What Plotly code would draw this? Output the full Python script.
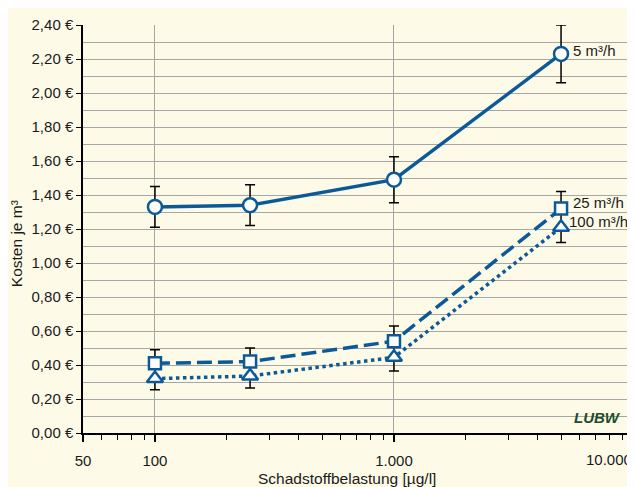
import plotly.graph_objects as go

# ---- data ----
x_vals = [100, 250, 1000, 5000]
y_5 = [1.33, 1.34, 1.49, 2.23]
err_5 = [0.12, 0.12, 0.135, 0.17]
y_25 = [0.41, 0.42, 0.54, 1.32]
err_25_plus = [0.08, 0.08, 0.09, 0.10]
y_100 = [0.32, 0.335, 0.445, 1.21]
err_100_minus = [0.065, 0.07, 0.08, 0.09]

y_ticks = [0, 0.2, 0.4, 0.6, 0.8, 1.0, 1.2, 1.4, 1.6, 1.8, 2.0, 2.2, 2.4]
y_ticktext = [f"{v:.2f}".replace(".", ",") + " €" for v in y_ticks]
x_ticks = [50, 100, 1000, 10000]
x_ticktext = ["50", "100", "1.000", "10.000"]
x_minor = [60, 70, 80, 90, 200, 300, 400, 500, 600, 700, 800, 900,
           2000, 3000, 4000, 5000, 6000, 7000, 8000, 9000]

series_labels = ["5 m³/h", "25 m³/h", "100 m³/h"]

BLUE = "#0b5a97"
BG = "#fdfae8"
FONT = "Liberation Sans, Arial, sans-serif"
TXT = "#1a1a1a"

fig = go.Figure()

# 25 m3/h (square, dashed) - error bar spans down to the triangle
err_25_minus = [a - b for a, b in zip(y_25, y_100)]
fig.add_trace(go.Scatter(
    x=x_vals, y=y_25, mode="lines+markers",
    line=dict(color=BLUE, width=3.5, dash="15px,6px"),
    marker=dict(symbol="square", size=12, color="white",
                line=dict(color=BLUE, width=2.5)),
    error_y=dict(type="data", symmetric=False, array=err_25_plus,
                 arrayminus=err_25_minus, color="black", thickness=1.5, width=5),
    showlegend=False))

# 100 m3/h (triangle, dotted)
fig.add_trace(go.Scatter(
    x=x_vals, y=y_100, mode="lines+markers",
    line=dict(color=BLUE, width=3.5, dash="3.5px,3.5px"),
    marker=dict(symbol="triangle-up", size=14, color="white",
                line=dict(color=BLUE, width=2.5)),
    error_y=dict(type="data", symmetric=False, array=[0, 0, 0, 0],
                 arrayminus=err_100_minus, color="black", thickness=1.5, width=5),
    showlegend=False))

# 5 m3/h (circle, solid)
fig.add_trace(go.Scatter(
    x=x_vals, y=y_5, mode="lines+markers",
    line=dict(color=BLUE, width=3.5),
    marker=dict(symbol="circle", size=14, color="white",
                line=dict(color=BLUE, width=2.5)),
    error_y=dict(type="data", array=err_5, color="black", thickness=1.5, width=5),
    showlegend=False))

# series labels (log10 x position, y position)
label_pos = [(3.740, 2.25), (3.740, 1.355), (3.724, 1.245)]
for txt, (lx, ly) in zip(series_labels, label_pos):
    fig.add_annotation(x=lx, y=ly, xref="x", yref="y", text=txt,
                       showarrow=False, xanchor="left", yanchor="middle",
                       font=dict(family=FONT, size=15, color=TXT))

# last x tick label sits left-shifted against the right edge (as in the original)
fig.add_annotation(x=1.002, y=-0.066, xref="paper", yref="paper", text=x_ticktext[-1],
                   showarrow=False, xanchor="right", yanchor="middle",
                   font=dict(family=FONT, size=15, color=TXT))

# LUBW logo text
fig.add_annotation(x=0.935, y=0.039, xref="paper", yref="paper", text="<b><i>LUBW</i></b>",
                   showarrow=False, xanchor="center", yanchor="middle",
                   font=dict(family="Liberation Sans Narrow, Liberation Sans, Arial",
                             size=15, color="#1e4d2b"))

# axis titles
fig.add_annotation(x=-0.1217, y=0.463, xref="paper", yref="paper", text="Kosten je m³",
                   textangle=-90, showarrow=False, xanchor="center", yanchor="middle",
                   font=dict(family=FONT, size=15.5, color=TXT))
fig.add_annotation(x=0.4805, y=-0.112, xref="paper", yref="paper",
                   text="Schadstoffbelastung [µg/l]", showarrow=False,
                   xanchor="center", yanchor="middle",
                   font=dict(family=FONT, size=15.5, color=TXT))

fig.update_layout(
    width=635, height=487,
    margin=dict(l=75, r=9.5, t=17, b=62, autoexpand=False),
    paper_bgcolor=BG, plot_bgcolor=BG,
    font=dict(family=FONT, size=15, color=TXT),
    xaxis=dict(type="log", range=[1.69897, 4], tickvals=x_ticks,
               ticktext=x_ticktext[:-1] + [""],
               automargin=False, ticklabelstandoff=6,
               showgrid=True, gridcolor="#a6a6a6", gridwidth=1.2,
               showline=True, linecolor="black", linewidth=1.5,
               ticks="outside", ticklen=7, tickcolor="black", tickwidth=1.5,
               tickfont=dict(size=15),
               minor=dict(tickvals=x_minor, ticks="outside", ticklen=5,
                          tickcolor="black", tickwidth=1.2, showgrid=False),
               zeroline=False),
    yaxis=dict(range=[0, 2.4], tickvals=y_ticks, ticktext=y_ticktext,
               automargin=False,
               showgrid=True, gridcolor="#a6a6a6", gridwidth=1.2,
               showline=True, linecolor="black", linewidth=1.5,
               ticks="outside", ticklen=5, tickcolor="black", tickwidth=1.2,
               tickfont=dict(size=15),
               minor=dict(dtick=0.1, tick0=0, showgrid=True, gridcolor="#a6a6a6",
                          gridwidth=1.2, ticks=""),
               zeroline=False),
)

fig.write_html("out.html")
